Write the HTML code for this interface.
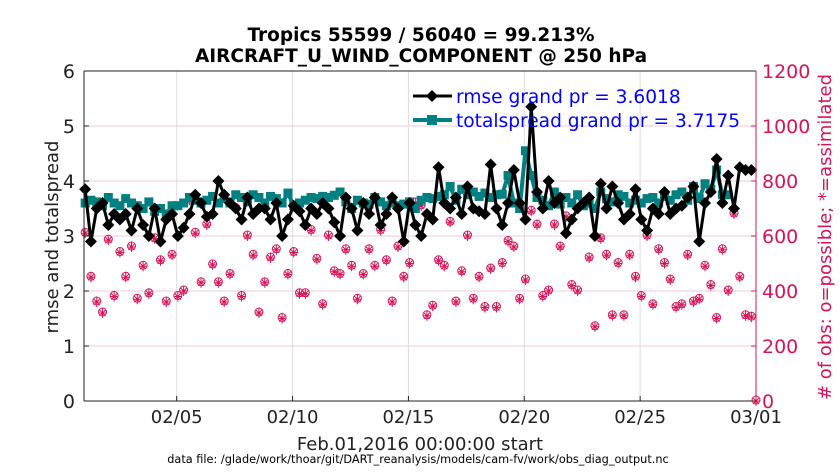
<!DOCTYPE html>
<html><head><meta charset="utf-8"><style>
body{margin:0;background:#fff;font-family:"DejaVu Sans","Liberation Sans",sans-serif}
svg{display:block;font-family:"DejaVu Sans","Liberation Sans",sans-serif}
</style></head><body>
<svg id="chart" width="840" height="473" viewBox="0 0 840 473">
<text x="421" y="41" text-anchor="middle" font-size="18.5" font-weight="bold">Tropics 55599 / 56040 = 99.213%</text>
<text x="421" y="62" text-anchor="middle" font-size="18.5" font-weight="bold">AIRCRAFT_U_WIND_COMPONENT @ 250 hPa</text>
<g id="grid"></g><g id="obs"></g><g id="series"></g><g id="axes"></g>
<text transform="translate(58,237) rotate(-90)" text-anchor="middle" font-size="18" fill="#222">rmse and totalspread</text>
<text transform="translate(831,237) rotate(-90)" text-anchor="middle" font-size="18" fill="#d6145a"># of obs: o=possible; *=assimilated</text>
<text x="420" y="450" text-anchor="middle" font-size="18" fill="#222">Feb.01,2016 00:00:00 start</text>
<text x="418" y="463" text-anchor="middle" font-size="11.3" fill="#000">data file: /glade/work/thoar/git/DART_reanalysis/models/cam-fv/work/obs_diag_output.nc</text>
<g>
<line x1="413" y1="96" x2="452" y2="96" stroke="#000" stroke-width="3"/><path d="M432 90 L438 96 L432 102 L426 96Z" fill="#000"/>
<text x="456" y="103" font-size="18.6" fill="#0000ff">rmse grand pr = 3.6018</text>
<line x1="413" y1="120" x2="452" y2="120" stroke="#008080" stroke-width="4"/><rect x="427" y="115" width="10" height="10" fill="#008080"/>
<text x="456" y="127" font-size="18.6" fill="#0000ff">totalspread grand pr = 3.7175</text>
</g>
</svg>
<script>
const xTickLabels=["02/05","02/10","02/15","02/20","02/25","03/01"];
const xTickDays=[4,9,14,19,24,29];
const yTicks=[0,1,2,3,4,5,6];
const y2Ticks=[0,200,400,600,800,1000,1200];
const rmse=[3.85,2.9,3.5,3.6, 3.2,3.4,3.3,3.4, 3.1,3.5,3.2,3.0, 3.5,2.9,3.3,3.4, 3.0,3.15,3.4,3.75, 3.6,3.35,3.4,4.0, 3.75,3.6,3.5,3.3, 3.7,3.4,3.5,3.5, 3.3,3.6,3.0,3.3, 3.55,3.45,3.2,3.5, 3.4,3.6,3.5,3.25, 3.0,3.7,3.5,3.1, 3.6,3.4,3.7,3.2, 3.4,3.7,3.5,2.9, 3.6,3.2,3.0,3.4, 3.3,4.25,3.6,3.5, 3.7,3.4,3.9,3.5, 3.45,3.4,4.3,3.5, 3.2,3.6,4.2,3.6, 3.3,5.35,3.8,3.5, 4.0,3.6,3.7,3.05, 3.3,3.5,3.6,3.7, 3.0,3.95,3.5,3.9, 3.6,3.3,3.4,3.85, 3.3,3.1,3.5,3.4, 3.8,3.4,3.5,3.55, 3.7,3.9,2.9,3.6, 3.8,4.4,3.6,4.1, 3.5,4.25,4.2,4.2];
const spread=[3.6,3.65,3.62,3.55, 3.7,3.6,3.55,3.68, 3.6,3.55,3.5,3.62, 3.45,3.5,3.4,3.55, 3.55,3.6,3.7,3.65, 3.6,3.65,3.72,3.6, 3.68,3.6,3.75,3.7, 3.62,3.75,3.7,3.6, 3.72,3.68,3.6,3.78, 3.55,3.6,3.65,3.7, 3.68,3.72,3.7,3.74, 3.8,3.62,3.5,3.65, 3.6,3.58,3.7,3.62, 3.55,3.6,3.55,3.58, 3.62,3.5,3.65,3.7, 3.68,3.72,3.75,3.9, 3.65,3.85,3.75,3.8, 3.72,3.78,3.7,3.75, 3.76,4.1,3.6,3.5, 4.55,4.1,3.7,3.65, 3.55,3.8,3.58,3.7, 3.6,3.75,3.55,3.6, 3.5,3.8,3.68,3.62, 3.75,3.72,3.6,3.65, 3.6,3.68,3.7,3.6, 3.72,3.65,3.75,3.8, 3.65,3.9,3.68,3.95, 3.85,4.2,3.75,3.75];
const obsCount=[610,450,360,320, 585,380,540,450, 560,370,490,390, 590,510,360,530, 380,400,730,610, 430,640,495,430, 360,460,700,380, 600,530,320,430, 520,550,300,460, 540,390,390,620, 515,350,600,470, 460,550,490,370, 460,550,490,620, 510,360,560,450, 500,720,710,310, 345,510,490,650, 360,470,600,370, 450,340,480,340, 500,580,560,370, 440,690,640,380, 400,640,560,670, 420,400,720,520, 270,590,530,310, 500,310,530,450, 380,600,350,550, 500,440,340,350, 530,360,370,490, 420,300,550,400, 680,450,310,305, 0];
const NS="http://www.w3.org/2000/svg";
const X0=84,X1=756,Y0=401,Y1=71;
const xs=d=>X0+(d/29)*(X1-X0);
const ys=v=>Y0-(v/6)*(Y0-Y1);
const ys2=v=>Y0-(v/1200)*(Y0-Y1);
const dayOf=i=>i*0.25+0.05;
function mk(tag,attrs,parent){const e=document.createElementNS(NS,tag);for(const k in attrs)e.setAttribute(k,attrs[k]);parent.appendChild(e);return e;}
const grid=document.getElementById('grid'),axes=document.getElementById('axes'),obs=document.getElementById('obs'),ser=document.getElementById('series');
mk('rect',{x:X0,y:Y1,width:X1-X0,height:Y0-Y1,fill:'#fff'},grid);
yTicks.forEach(v=>{
 if(v>0&&v<6){const g=mk('line',{x1:X0,x2:X1,y1:ys(v),y2:ys(v),stroke:'#f2c8d8','stroke-width':1},grid);
 
 }
 const t=mk('text',{x:X0-9,y:ys(v)+7,'text-anchor':'end','font-size':19,fill:'#222'},axes);t.textContent=v;
 
 
 mk('line',{x1:X0,x2:X0+5,y1:ys(v),y2:ys(v),stroke:'#222'},axes);
});
y2Ticks.forEach(v=>{
 const t=mk('text',{x:X1+6,y:ys2(v)+7,'font-size':19,fill:'#d6145a'},axes);t.textContent=v;
 
 
 mk('line',{x1:X1-5,x2:X1,y1:ys2(v),y2:ys2(v),stroke:'#d6145a'},axes);
});
xTickDays.forEach((d,k)=>{
 const x=xs(d);
 if(k<xTickDays.length-1){const g=mk('line',{x1:x,x2:x,y1:Y1,y2:Y0,stroke:'#ddd','stroke-width':1},grid);
 
 }
 mk('line',{x1:x,x2:x,y1:Y0,y2:Y0-5,stroke:'#222'},axes);
 const t=mk('text',{x:x,y:Y0+22,'text-anchor':'middle','font-size':18,fill:'#222'},axes);t.textContent=xTickLabels[k];
 
 
});
mk('line',{x1:X0,x2:X1,y1:Y0,y2:Y0,stroke:'#222'},axes);
mk('line',{x1:X0,x2:X0,y1:Y1,y2:Y0,stroke:'#222'},axes);
mk('line',{x1:X0,x2:X1,y1:Y1,y2:Y1,stroke:'#222'},axes);
mk('line',{x1:X1,x2:X1,y1:Y1,y2:Y0,stroke:'#d6145a'},axes);
obsCount.forEach((v,i)=>{
 const cx=xs(i===obsCount.length-1?29:dayOf(i)),cy=ys2(v);
 const g=mk('g',{stroke:'#d6145a',fill:'none','stroke-width':1},obs);
 
 
 mk('circle',{cx:cx,cy:cy-1,r:4},g);
 mk('path',{d:`M${cx-4} ${cy}H${cx+4}M${cx} ${cy-5}V${cy+5}M${cx-3} ${cy-3}L${cx+3} ${cy+3}M${cx+3} ${cy-3}L${cx-3} ${cy+3}`},g);
});
function line(arr,color,w,name){
 const pts=arr.map((v,i)=>xs(dayOf(i))+','+ys(v)).join(' ');
 const p=mk('polyline',{points:pts,fill:'none',stroke:color,'stroke-width':w,'stroke-linejoin':'round'},ser);
 
 
}
line(spread,'#008080',4,'totalspread-line');
spread.forEach((v,i)=>{const r=mk('rect',{x:xs(dayOf(i))-4.5,y:ys(v)-4.5,width:9,height:9,fill:'#008080'},ser);
 
 });
line(rmse,'#000',3,'rmse-line');
rmse.forEach((v,i)=>{const x=xs(dayOf(i)),y=ys(v);const p=mk('path',{d:`M${x} ${y-6}L${x+6} ${y}L${x} ${y+6}L${x-6} ${y}Z`,fill:'#000'},ser);
 
 });
</script>
</body></html>
